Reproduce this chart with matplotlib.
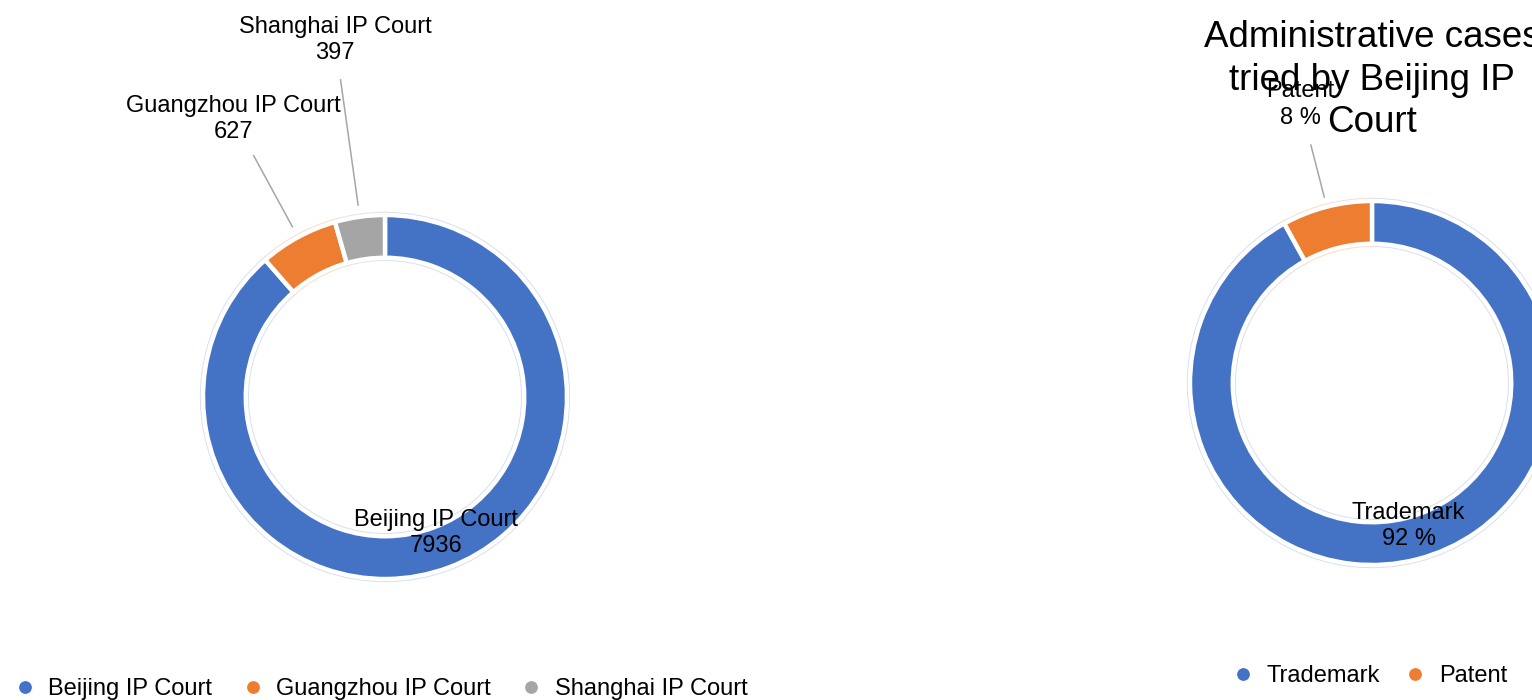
"""two donut charts: IP court caseloads and Beijing IP Court administrative cases"""
import matplotlib
matplotlib.use("Agg")
import matplotlib.pyplot as plt
from matplotlib.lines import Line2D
import numpy as np

plt.rcParams['font.family'] = ['Liberation Sans', 'DejaVu Sans']

# left donut: cases per court
courts = ["Beijing IP Court", "Guangzhou IP Court", "Shanghai IP Court"]
court_cases = [7936, 627, 397]
court_colors = ["#4472C4", "#ED7D31", "#A5A5A5"]
court_halo = ["#d6e0f3", "#fbdcc8", "#e4e4e4"]

# right donut: share of administrative cases
case_types = ["Trademark", "Patent"]
case_share = [92, 8]
case_colors = ["#4472C4", "#ED7D31"]
case_halo = ["#d6e0f3", "#fbdcc8"]

title = "Administrative cases\ntried by Beijing IP\nCourt"

W, H = 1532, 700
R_PX = 182
FS = 17


def donut_axes(fig, cx, cy):
    """axes whose unit circle sits at pixel centre (cx, cy), y from top"""
    ax = fig.add_axes([(cx - R_PX) / W, (H - cy - R_PX) / H, 2 * R_PX / W, 2 * R_PX / H])
    return ax


def draw_donut(ax, values, colors, halo, texts, label_pos):
    # faint tinted rim under the white borders
    wedges, _ = ax.pie(values, colors=colors, startangle=90, counterclock=False, radius=1,
                       wedgeprops=dict(width=0.235, linewidth=4.6))
    for w, h in zip(wedges, halo):
        w.set_edgecolor(h)
    wedges, _ = ax.pie(values, colors=colors, startangle=90, counterclock=False, radius=1,
                       wedgeprops=dict(width=0.235, edgecolor='white', linewidth=3.2))
    for w, txt, pos in zip(wedges, texts, label_pos):
        ang = np.radians((w.theta1 + w.theta2) / 2)
        ca, sa = np.cos(ang), np.sin(ang)
        if pos[0] == 'in':
            r = pos[1]
        else:
            _, r0, r1, r = pos
            ax.plot([r0 * ca, r1 * ca], [r0 * sa, r1 * sa], color='#a6a6a6', lw=1.1,
                    clip_on=False)
        ax.text(r * ca, r * sa, txt, ha='center', va='center', fontsize=FS,
                linespacing=1.24, clip_on=False)
    # pie resets the limits, so pin them afterwards
    ax.set_xlim(-1, 1)
    ax.set_ylim(-1, 1)
    ax.set_aspect('equal')
    ax.axis('off')


fig = plt.figure(figsize=(W / 100, H / 100), dpi=100)

ax1 = donut_axes(fig, 385, 397)
draw_donut(ax1, court_cases, court_colors, court_halo,
           [f"{c}\n{v}" for c, v in zip(courts, court_cases)],
           [('in', 0.80), ('out', 1.065, 1.51, 1.74), ('out', 1.065, 1.76, 1.98)])

ax2 = donut_axes(fig, 1372, 383)
draw_donut(ax2, case_share, case_colors, case_halo,
           [f"{c}\n{v} %" for c, v in zip(case_types, case_share)],
           [('in', 0.81), ('out', 1.055, 1.35, 1.58)])

fig.text(1372 / W, 1 - 80 / H, title, ha='center', va='center', fontsize=26.5,
         linespacing=1.26)


def legend_handles(colors):
    return [Line2D([], [], ls='none', marker='o', markersize=10, markerfacecolor=c,
                   markeredgecolor='white', markeredgewidth=0.8) for c in colors]


fig.legend(legend_handles(court_colors), courts, loc='center left',
           bbox_to_anchor=(13 / W, 1 - 689 / H), ncol=3, frameon=False, fontsize=FS,
           borderpad=0, borderaxespad=0, handlelength=1.0, handletextpad=0.5,
           columnspacing=1.2)
fig.legend(legend_handles(case_colors), case_types, loc='center left',
           bbox_to_anchor=(1231 / W, 1 - 676 / H), ncol=2, frameon=False, fontsize=FS,
           borderpad=0, borderaxespad=0, handlelength=1.0, handletextpad=0.5,
           columnspacing=1.0)

fig.savefig("out.png", dpi=100)
